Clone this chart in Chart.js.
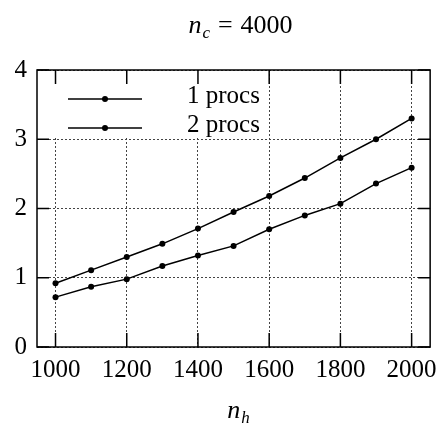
<!DOCTYPE html>
<html>
<head>
<meta charset="utf-8">
<script src="https://cdn.jsdelivr.net/npm/chart.js@4"></script>
<style>
  html, body { margin: 0; padding: 0; background: #fff; }
  #wrap { width: 445px; height: 427px; }
</style>
</head>
<body>
<div id="wrap"><canvas id="myChart" width="445" height="427"></canvas></div>
<script>
// data
const nh = [1000, 1100, 1200, 1300, 1400, 1500, 1600, 1700, 1800, 1900, 2000];
const procs1 = [0.92, 1.11, 1.30, 1.49, 1.71, 1.95, 2.18, 2.44, 2.73, 3.00, 3.30];
const procs2 = [0.72, 0.87, 0.98, 1.17, 1.32, 1.46, 1.70, 1.90, 2.07, 2.36, 2.59];
const seriesNames = ["1 procs", "2 procs"];
const xTicks = [1000, 1200, 1400, 1600, 1800, 2000];
const yTicks = [0, 1, 2, 3, 4];

const serif = "'Liberation Serif', 'Times New Roman', serif";

function toPoints(ys) {
    return nh.map((x, i) => ({x: x, y: ys[i]}));
}

// math-like label: italic letter + italic subscript + optional "= value"
function mathLabel(c, cx, baseline, base, sub, value) {
    c.font = "italic 26px " + serif;
    const wBase = c.measureText(base).width;
    c.font = "italic 17px " + serif;
    const wSub = c.measureText(sub).width;
    c.font = "26px " + serif;
    const wEq = value ? c.measureText("=").width : 0;
    const wVal = value ? c.measureText(value).width : 0;
    const gap = value ? 8 : 0;
    let x = cx - (wBase + wSub + wEq + wVal + 2 * gap) / 2;
    c.fillStyle = "#000";
    c.textAlign = "left";
    c.textBaseline = "alphabetic";
    c.font = "italic 26px " + serif;
    c.fillText(base, x, baseline);
    x += wBase + 1;
    c.font = "italic 17px " + serif;
    c.fillText(sub, x, baseline + 5);
    x += wSub;
    if (value) {
        c.font = "26px " + serif;
        x += gap;
        c.fillText("=", x, baseline);
        x += wEq + gap;
        c.fillText(value, x, baseline);
    }
}

const framePlugin = {
    id: "frame",
    afterDatasetsDraw(chart) {
        const c = chart.ctx;
        const a = chart.chartArea;
        const xs = chart.scales.x, ys = chart.scales.y;
        c.save();

        // legend box (covers grid)
        c.fillStyle = "#fff";
        c.fillRect(a.left + 1, a.top + 1, 229, 67);
        const ds = chart.data.datasets;
        const rows = [a.top + 29, a.top + 58];
        for (let i = 0; i < ds.length; i++) {
            const y = rows[i];
            c.strokeStyle = "#000";
            c.lineWidth = 1.5;
            c.beginPath();
            c.moveTo(a.left + 31, y);
            c.lineTo(a.left + 105, y);
            c.stroke();
            c.fillStyle = "#000";
            c.beginPath();
            c.arc(a.left + 68, y, 3, 0, Math.PI * 2);
            c.fill();
            c.font = "25px " + serif;
            c.textAlign = "left";
            c.textBaseline = "middle";
            c.fillText(ds[i].label, a.left + 150, y - 3);
        }

        // frame and inward tick marks
        c.strokeStyle = "#000";
        c.lineWidth = 1.5;
        c.strokeRect(a.left, a.top, a.right - a.left, a.bottom - a.top);
        c.beginPath();
        xTicks.forEach(v => {
            const px = xs.getPixelForValue(v);
            c.moveTo(px, a.bottom); c.lineTo(px, a.bottom - 14);
            c.moveTo(px, a.top); c.lineTo(px, a.top + 14);
        });
        yTicks.forEach(v => {
            const py = ys.getPixelForValue(v);
            c.moveTo(a.left, py); c.lineTo(a.left + 12, py);
            c.moveTo(a.right, py); c.lineTo(a.right - 12, py);
        });
        c.stroke();

        // titles
        mathLabel(c, 240, 33, "n", "c", "4000");
        mathLabel(c, 238, 418, "n", "h", "");
        c.restore();
    }
};

const ctx = document.getElementById("myChart").getContext("2d");

const config = {
    type: "line",
    data: {
        datasets: [
            {
                label: seriesNames[0],
                data: toPoints(procs1),
                borderColor: "#000",
                backgroundColor: "#000",
                borderWidth: 1.5,
                pointRadius: 3,
                pointBorderWidth: 0,
                tension: 0
            },
            {
                label: seriesNames[1],
                data: toPoints(procs2),
                borderColor: "#000",
                backgroundColor: "#000",
                borderWidth: 1.5,
                pointRadius: 3,
                pointBorderWidth: 0,
                tension: 0
            }
        ]
    },
    options: {
        responsive: false,
        animation: false,
        devicePixelRatio: 1,
        layout: { padding: { top: 70, right: 8, left: 0, bottom: 0 } },
        plugins: {
            legend: { display: false },
            title: { display: false },
            tooltip: { enabled: false }
        },
        scales: {
            x: {
                type: "linear",
                min: 948,
                max: 2052,
                border: { display: false, dash: [2, 2] },
                grid: {
                    color: "#444",
                    lineWidth: 1,
                    drawTicks: false
                },
                ticks: {
                    stepSize: 200,
                    includeBounds: false,
                    padding: 8,
                    color: "#000",
                    font: { family: serif, size: 25 },
                    maxRotation: 0,
                    callback: v => String(v)
                },
                afterBuildTicks(scale) {
                    scale.ticks = xTicks.map(v => ({value: v}));
                },
                afterFit(scale) { scale.height = 80; }
            },
            y: {
                min: 0,
                max: 4,
                border: { display: false, dash: [2, 2] },
                grid: {
                    color: "#444",
                    lineWidth: 1,
                    drawTicks: false
                },
                ticks: {
                    stepSize: 1,
                    padding: 10,
                    color: "#000",
                    font: { family: serif, size: 25 },
                    callback: v => String(v)
                },
                afterFit(scale) { scale.width = 37; }
            }
        }
    },
    plugins: [framePlugin]
};

let myChart = new Chart(ctx, config);
</script>
</body>
</html>
